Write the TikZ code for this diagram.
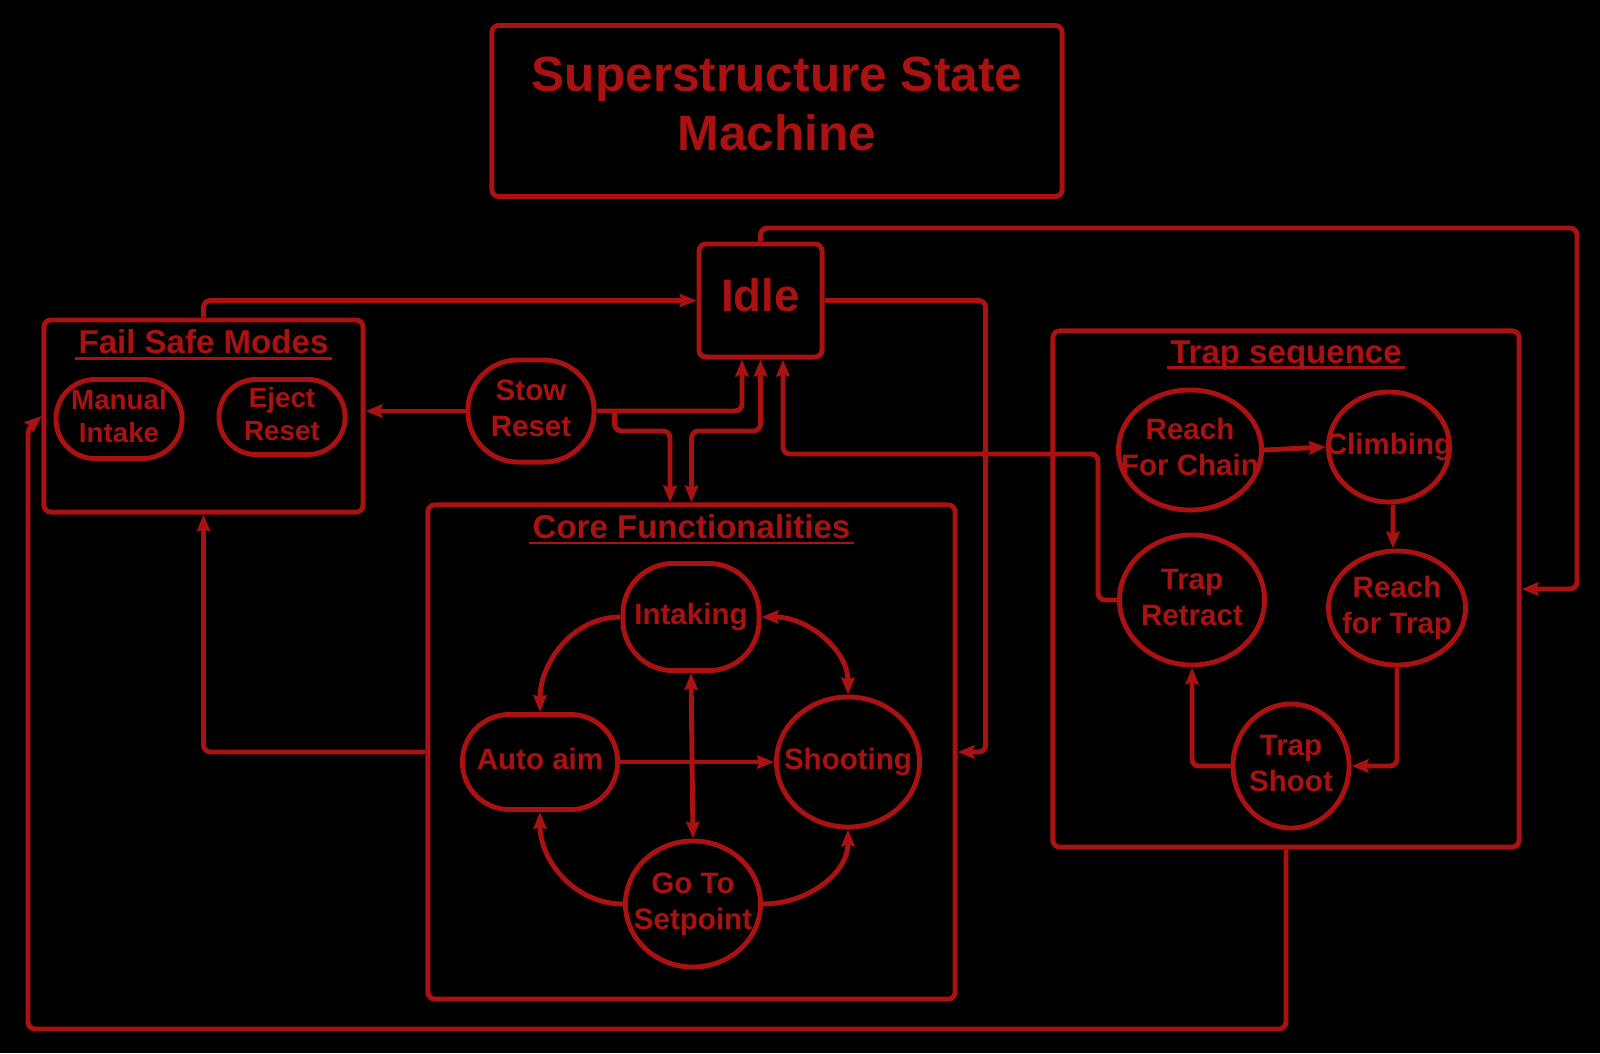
\documentclass[tikz,border=0pt]{standalone}
\usepackage{fontspec}
\setmainfont{Liberation Sans}
\usepackage{tikz}
\usetikzlibrary{positioning, arrows.meta, shapes.geometric, calc}
\usepackage{xcolor}
\definecolor{statered}{RGB}{170, 17, 17}
\newcommand{\statelabel}[1]{\makebox[0pt]{\begin{tabular}{@{}c@{}}#1\end{tabular}}}
\newcommand{\titleline}[1]{\setbox0\hbox{#1}\leavevmode\rlap{\hspace{-1pt}\rule[-1.6pt]{\dimexpr\wd0+2pt\relax}{0.8pt}}\box0}

\begin{document}
\begin{tikzpicture}[x=0.01cm, y=-0.01cm, >={Stealth[length=4.8pt, width=3.8pt, inset=0.6pt]},
    every node/.style={text=statered, font=\bfseries},
    frame/.style={draw=statered, line width=1.4pt, rounded corners=2pt, inner sep=0pt},
    boxtitle/.style={font=\bfseries\fontsize{9.4}{11}\selectfont},
    state/.style={ellipse, draw=statered, line width=1.4pt, inner sep=0pt, font=\bfseries\fontsize{8.4}{10.2}\selectfont},
    pill/.style={rectangle, rounded corners=#1, draw=statered, line width=1.4pt, inner sep=0pt, font=\bfseries\fontsize{8.4}{10.2}\selectfont},
    flow/.style={->, draw=statered, line width=1.4pt, rounded corners=2pt},
    flowboth/.style={<->, draw=statered, line width=1.4pt, rounded corners=2pt}]
  \fill[black] (0,0) rectangle (1600,1053);
  \useasboundingbox (0,0) rectangle (1600,1053);
  % Title and idle state
  \node[frame, minimum width=5.70cm, minimum height=1.71cm] (title) at (777,111) {};
  \node[align=center, font=\bfseries\fontsize{14.1}{16.8}\selectfont] (titletext) at (777,104) {Superstructure State\\Machine};
  \node[frame, minimum width=1.23cm, minimum height=1.13cm, text depth=0.12cm, font=\bfseries\fontsize{13}{15}\selectfont] (idle) at (760.5,300.5) {Idle};
  % Fail safe modes
  \node[frame, minimum width=3.19cm, minimum height=1.92cm] (fail) at (203.5,416) {};
  \node[boxtitle, below=0pt] (failtitle) at (fail.north) {\titleline{Fail Safe Modes}};
  \node[pill=0.39cm, minimum width=1.26cm, minimum height=0.79cm, font=\bfseries\fontsize{7.9}{9.4}\selectfont] (manual) at (119,419) {\statelabel{Manual\\Intake}};
  \node[pill=0.37cm, minimum width=1.26cm, minimum height=0.75cm, font=\bfseries\fontsize{7.9}{9.4}\selectfont] (eject) at (282,417) {\statelabel{Eject\\Reset}};
  \node[pill=0.5cm, minimum width=1.26cm, minimum height=1.02cm] (stow) at (531,411) {\statelabel{Stow\\Reset}};
  % Core functionalities
  \node[frame, minimum width=5.27cm, minimum height=4.94cm] (core) at (691.5,752) {};
  \node[boxtitle, below=0pt] (coretitle) at (core.north) {\titleline{Core Functionalities}};
  \node[pill=0.5cm, minimum width=1.36cm, minimum height=1.07cm] (intaking) at (691,617) {\statelabel{Intaking}};
  \node[pill=0.47cm, minimum width=1.55cm, minimum height=0.95cm] (autoaim) at (540,762) {\statelabel{Auto aim}};
  \node[state, minimum width=1.43cm, minimum height=1.30cm] (shooting) at (848,762) {\statelabel{Shooting}};
  \node[state, minimum width=1.35cm, minimum height=1.26cm] (setpoint) at (693,904) {\statelabel{Go To\\Setpoint}};
  % Trap sequence
  \node[frame, minimum width=4.66cm, minimum height=5.16cm] (trap) at (1286,589) {};
  \node[boxtitle, below=0pt] (traptitle) at (trap.north) {\titleline{Trap sequence}};
  \node[state, minimum width=1.43cm, minimum height=1.20cm] (chain) at (1190,450) {\statelabel{Reach\\For Chain}};
  \node[state, minimum width=1.21cm, minimum height=1.10cm] (climbing) at (1389,447) {\statelabel{Climbing}};
  \node[state, minimum width=1.45cm, minimum height=1.30cm] (retract) at (1192,600) {\statelabel{Trap\\Retract}};
  \node[state, minimum width=1.37cm, minimum height=1.14cm] (reachtrap) at (1397,608) {\statelabel{Reach\\for Trap}};
  \node[state, minimum width=1.16cm, minimum height=1.24cm] (trapshoot) at (1291,766) {\statelabel{Trap\\Shoot}};
  % Links around idle
  \draw[flow] (fail.north) |- (idle.west);
  \draw[flow] (idle.east) -| ([xshift=0.28cm]core.east) -- (core.east);
  \coordinate (topright) at (1577,228);
  \draw[flow] (idle.north) |- (topright) |- (trap.east);
  \draw[flow] (stow.west) -- (fail.east |- stow.west);
  \draw[flow] (stow.east) -| ([xshift=-0.185cm]idle.south);
  \draw[flow] ([xshift=0.18cm]stow.east) |- (670,431) -- ([xshift=-0.215cm]core.north);
  \draw[flowboth] (idle.south) -- (760.5,431) -| (core.north);
  \draw[flow] (retract.west) -| (1098,454) -| ([xshift=0.225cm]idle.south);
  \draw[flow] (core.west) -| (fail.south);
  \coordinate (bottomleft) at (28,1029);
  \draw[flow] (trap.south) |- (bottomleft) -- (28,428) -- (fail.west);
  % Core transitions
  \draw[flow] (intaking.west) to[out=180, in=90] (autoaim.north);
  \draw[flowboth] (intaking.east) to[out=0, in=90] (shooting.north);
  \draw[flowboth] (intaking.south) -- (setpoint.north);
  \draw[flow] (autoaim.east) -- (shooting.west);
  \draw[flow] (setpoint.west) to[out=180, in=-90] (autoaim.south);
  \draw[flow] (setpoint.east) to[out=0, in=-90] (shooting.south);
  % Trap transitions
  \draw[flow] (chain.east) -- (climbing.west);
  \draw[flow] ([xshift=0.04cm]climbing.south) -- ([xshift=-0.04cm]reachtrap.north);
  \draw[flow] (reachtrap.south) |- (trapshoot.east);
  \draw[flow] (trapshoot.west) -| (retract.south);
\end{tikzpicture}
\end{document}
